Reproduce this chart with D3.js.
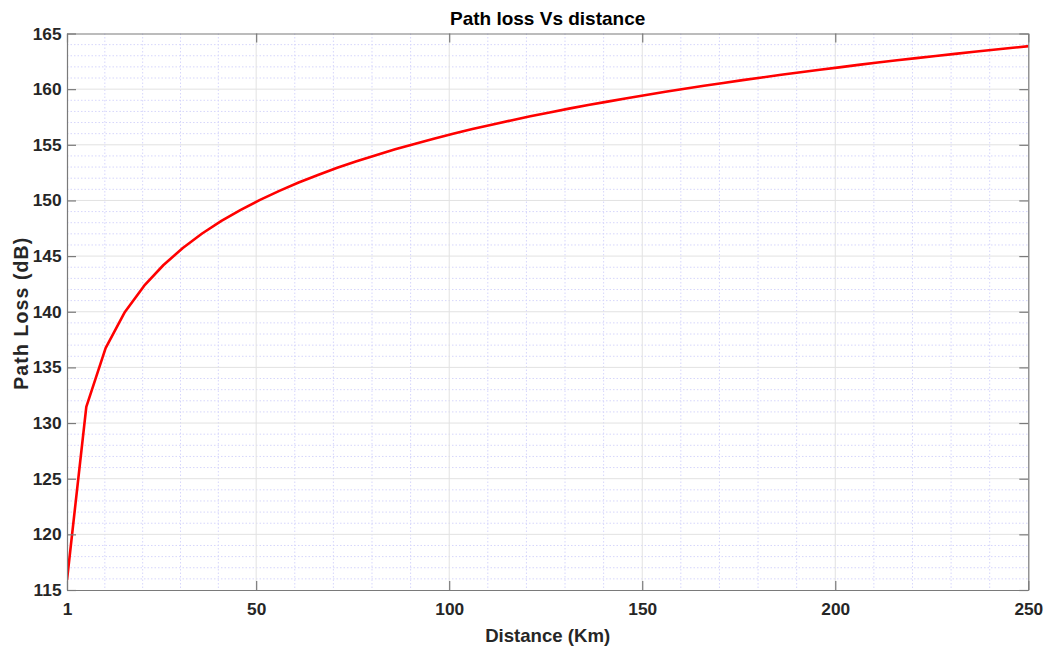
<!DOCTYPE html>
<html>
<head>
<meta charset="utf-8">
<script src="https://cdn.jsdelivr.net/npm/d3@7"></script>
<style>
  html, body { margin: 0; padding: 0; background: #fff; }
  svg { display: block; }
  svg text { font-family: "Liberation Sans", Arial, Helvetica, sans-serif; }
</style>
</head>
<body>
<svg id="chart" width="1050" height="652"></svg>
<script>
// Distance samples (km) and the path loss at each one (dB)
const distanceKm = [1, 6, 11, 16, 21, 26, 31, 36, 41, 46, 51, 56, 61, 66, 71, 76, 81, 86, 91, 96,
  101, 106, 111, 116, 121, 126, 131, 136, 141, 146, 151, 156, 161, 166, 171, 176, 181, 186, 191, 196,
  201, 206, 211, 216, 221, 226, 231, 236, 241, 246, 251];
const pathLossDb = [115.90, 131.46, 136.73, 139.98, 142.34, 144.20, 145.73, 147.03, 148.16, 149.16,
  150.05, 150.86, 151.61, 152.29, 152.93, 153.52, 154.07, 154.59, 155.08, 155.55,
  155.99, 156.41, 156.81, 157.19, 157.56, 157.91, 158.25, 158.57, 158.88, 159.19,
  159.48, 159.76, 160.04, 160.30, 160.56, 160.81, 161.05, 161.29, 161.52, 161.75,
  161.96, 162.18, 162.39, 162.59, 162.79, 162.98, 163.17, 163.36, 163.54, 163.72, 163.89];

const xTicks = [1, 50, 100, 150, 200, 250];
const yTicks = [115, 120, 125, 130, 135, 140, 145, 150, 155, 160, 165];

const titleText = "Path loss Vs distance";
const xLabelText = "Distance (Km)";
const yLabelText = "Path Loss (dB)";

const svg = d3.select("#chart");
const margin = { left: 67, top: 33.5, right: 1050 - 1028.3, bottom: 652 - 590 };
const W = 1050 - margin.left - margin.right;
const H = 652 - margin.top - margin.bottom;

const x = d3.scaleLinear().domain([1, 250]).range([0, W]);
const y = d3.scaleLinear().domain([115, 165]).range([H, 0]);

const g = svg.append("g").attr("transform", `translate(${margin.left},${margin.top})`);

// Minor grid: each major interval split into 5 parts
const xMinor = [];
for (let i = 0; i < xTicks.length - 1; i++) {
  const a = xTicks[i], b = xTicks[i + 1];
  for (let k = 1; k < 5; k++) xMinor.push(a + (b - a) * k / 5);
}
const yMinor = [];
for (let i = 0; i < yTicks.length - 1; i++) {
  const a = yTicks[i], b = yTicks[i + 1];
  for (let k = 1; k < 5; k++) yMinor.push(a + (b - a) * k / 5);
}

const minorStyle = sel => sel.attr("stroke", "#d6d6fb").attr("stroke-width", 1).attr("stroke-dasharray", "1.5,2");
g.append("g").selectAll("line").data(xMinor).join("line")
  .attr("x1", d => x(d)).attr("x2", d => x(d)).attr("y1", 0).attr("y2", H).call(minorStyle);
g.append("g").selectAll("line").data(yMinor).join("line")
  .attr("y1", d => y(d)).attr("y2", d => y(d)).attr("x1", 0).attr("x2", W).call(minorStyle);

// Major grid
g.append("g").selectAll("line").data(xTicks.slice(1, -1)).join("line")
  .attr("x1", d => x(d)).attr("x2", d => x(d)).attr("y1", 0).attr("y2", H)
  .attr("stroke", "#e2e2e2").attr("stroke-width", 1);
g.append("g").selectAll("line").data(yTicks.slice(1, -1)).join("line")
  .attr("y1", d => y(d)).attr("y2", d => y(d)).attr("x1", 0).attr("x2", W)
  .attr("stroke", "#e2e2e2").attr("stroke-width", 1);

// Data line, clipped to the plot box
svg.append("defs").append("clipPath").attr("id", "plotClip")
  .append("rect").attr("width", W).attr("height", H);
const line = d3.line().x((d, i) => x(distanceKm[i])).y(d => y(d));
g.append("path").datum(pathLossDb)
  .attr("clip-path", "url(#plotClip)")
  .attr("fill", "none").attr("stroke", "#ff0000").attr("stroke-width", 2.6)
  .attr("stroke-linejoin", "round")
  .attr("d", line);

// Axes with inward ticks, box on all sides
const axisColor = "#7a7a7a";
const tickLen = 9;
const fontStack = '"Liberation Sans", Arial, Helvetica, sans-serif';
const styleAxis = (sel, showText) => {
  sel.attr("font-family", fontStack).attr("font-size", 17.3);
  sel.select(".domain").attr("stroke", axisColor).attr("stroke-width", 1.2);
  sel.selectAll(".tick line").attr("stroke", axisColor).attr("stroke-width", 1.2);
  sel.selectAll(".tick text")
    .attr("fill", "#262626").attr("font-size", 17.3).attr("font-weight", "bold")
    .style("display", showText ? null : "none");
};

g.append("g").attr("transform", `translate(0,${H})`)
  .call(d3.axisBottom(x).tickValues(xTicks).tickFormat(d3.format("d")).tickSizeInner(-tickLen).tickSizeOuter(0).tickPadding(13))
  .call(s => styleAxis(s, true));
g.append("g")
  .call(d3.axisTop(x).tickValues(xTicks).tickSizeInner(-tickLen).tickSizeOuter(0))
  .call(s => styleAxis(s, false));
g.append("g")
  .call(d3.axisLeft(y).tickValues(yTicks).tickFormat(d3.format("d")).tickSizeInner(-tickLen).tickSizeOuter(0).tickPadding(5.5))
  .call(s => styleAxis(s, true));
g.append("g").attr("transform", `translate(${W},0)`)
  .call(d3.axisRight(y).tickValues(yTicks).tickSizeInner(-tickLen).tickSizeOuter(0))
  .call(s => styleAxis(s, false));

// Title and axis labels
svg.append("text")
  .attr("x", margin.left + W / 2).attr("y", 24.5)
  .attr("text-anchor", "middle").attr("font-size", 19).attr("font-weight", "bold")
  .attr("fill", "#000").text(titleText);
svg.append("text")
  .attr("x", margin.left + W / 2).attr("y", 642)
  .attr("text-anchor", "middle").attr("font-size", 18.6).attr("font-weight", "bold")
  .attr("fill", "#262626").text(xLabelText);
svg.append("text")
  .attr("transform", `translate(28,${margin.top + H / 2 + 2}) rotate(-90)`)
  .attr("text-anchor", "middle").attr("font-size", 19.5).attr("font-weight", "bold")
  .attr("textLength", 152).attr("lengthAdjust", "spacing")
  .attr("fill", "#262626").text(yLabelText);
</script>
</body>
</html>
